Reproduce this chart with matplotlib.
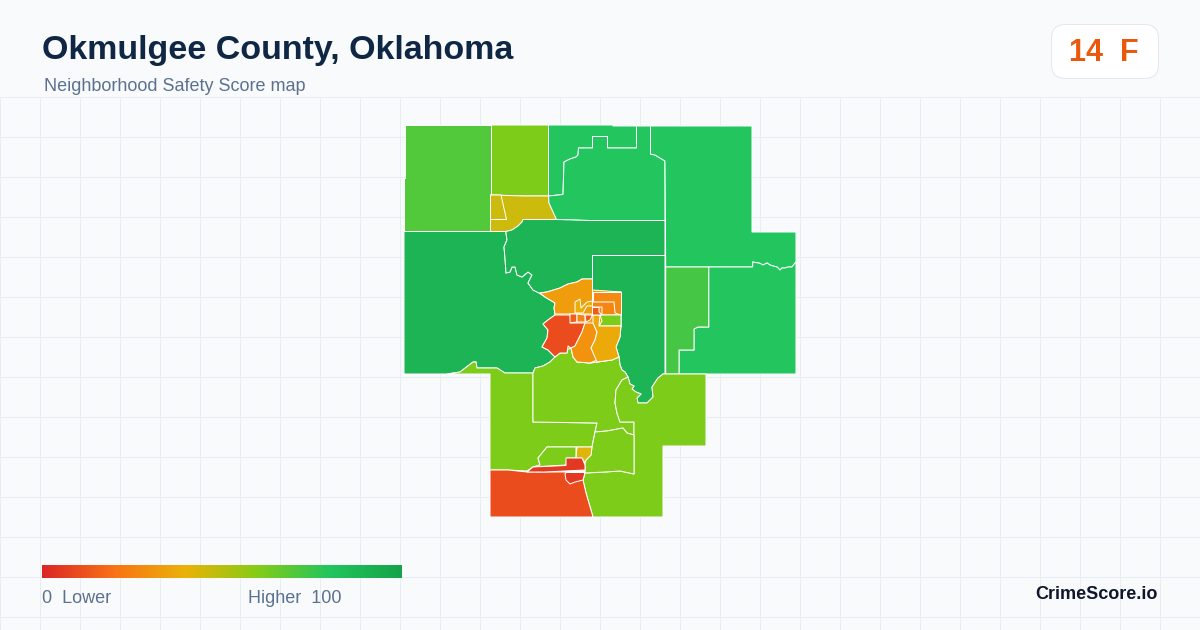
import numpy as np
import matplotlib
matplotlib.use("Agg")
import matplotlib.pyplot as plt
from matplotlib.colors import LinearSegmentedColormap, Normalize
from matplotlib.patches import FancyBboxPatch, Polygon

plt.rcParams['font.family'] = ['Liberation Sans', 'DejaVu Sans']

TITLE = "Okmulgee County, Oklahoma"
SUBTITLE = "Neighborhood Safety Score map"
OVERALL_SCORE = 14
OVERALL_GRADE = "F"
BRAND = "CrimeScore.io"

STOP_POSITIONS = [0, 0.2, 0.4, 0.6, 0.8, 1]
STOP_COLORS = ["#dc2626", "#f97316", "#eab308", "#84cc16", "#22c55e", "#16a34a"]

# Tract outlines (map coordinates) and their scores
nw_tract = [(405,125),(491.5,125),(491.5,195),(490.5,195),(490.5,231.5),(404,231.5),(404,178),(405,178)]
n_lime_tract = [(491.5,125),(548.5,125),(548.5,196),(524,196),(491.5,195)]
n_yellow_tract = [(490.5,195),(524,196),(548.5,196),(549,203),(556.5,219.5),(523,219.5),(522,222),(518,226),(512,230),(506,231.5),(490.5,231.5)]
n_yellow_small = [(490.5,195),(501,195),(506.5,219.5),(490.5,219.5)]
north_outer = [(548.5,125),(613,125),(613,126),(636.5,126),(636.5,148),(607.5,148),(607.5,136.5),(592.5,136.5),(592.5,148),(578.5,148),(578,155),(576,157),(570,159),(564,162),(563,194.5),(548.5,196)]
north_inner = [(548.5,196),(563,194.5),(564,162),(570,159),(576,157),(578,155),(578.5,148),(592.5,148),(592.5,136.5),(607.5,136.5),(607.5,148),(636.5,148),(636.5,126),(650.5,126),(650.5,154),(655,155),(660,158),(665,161),(665,220.5),(589,220.5),(556.5,219.5),(549,203)]
wiggle = [(796,262),(795,263),(792,267),(788,267),(785,268),(782,268),(780,270),(777,267),(773,266),(770,265),(767,263),(763,265),(760,263.3),(752.7,262)]
east_upper = [(650.5,126),(752,126),(752,232),(796,232)] + wiggle + [(752.7,267),(665.7,267),(665,161),(660,158),(655,155),(650.5,154)]
east_lower = [(708.7,267),(752.7,267)] + wiggle[::-1] + [(796,374),(679,374),(679,350),(694,350),(694,329),(698,327),(708.7,327)]
east_light = [(665.7,267),(708.7,267),(708.7,327),(698,327),(694,329),(694,350),(679,350),(679,374),(665.7,374)]
river_north = [(506,231.5),(506,233),(507,240),(504,247),(505,258),(506,273),(510,272),(512,267),(515,267),(517,275),(522,277),(528,272),(532,275),(528,283),(533,290),(539,293)]
west_dark = river_north + [(545,297),(550,300),(555,303),(554,308),(555,314),(555,315),(548,320),(543,324),(548,330),(547,338),(542,347),(548,350),(555,357),(550,362),(543,366),(535,368),(533,373),(505,373),(497,368),(477,368),(476,362),(473,362),(460,372),(447,374),(404,374),(404,231.5)]
north_dark = [(506,231.5),(512,230),(518,226),(522,222),(523,219.5),(556.5,219.5),(589,220.5),(665,220.5),(665,255.5),(592.5,255.5),(592.5,279),(582,279),(577,282),(568,284),(560,288),(547,292),(539,293)] + river_north[::-1][1:]
east_dark = [(592.5,255.5),(665,255.5),(665,374),(663,374),(658,378),(652,387),(653,397),(647,403),(638,403),(637,398),(641,394),(636,392),(632,389),(634,386),(630,384),(628,377),(625,372),(622,370),(620,365),(619,357),(616,347),(620,337),(621,326),(621,292),(592.5,292)]
center_base = [(555,303),(592.5,290),(621,292),(621,326),(616,347),(612,360),(590,363),(577,362),(571,348),(560,353),(548,330),(555,315)]
center_north = [(540,293),(547,292),(560,288),(568,284),(577,282),(582,279),(592.5,279),(592.5,314),(555,314),(554,308),(555,303),(550,300),(545,297)]
center_ne = [(592.5,292),(621,292),(621,315),(592.5,315)]
center_ne_inner = [(592.5,302),(614,302),(615,313),(621,315),(602,315),(602,307),(592.5,307)]
center_lime = [(600,315),(621,315),(621,326),(599,326),(602,321)]
center_west = [(555,315),(570,315),(571,323),(585,323),(582,332),(578,340),(575,346),(571,348),(568,346),(567,353),(560,353),(555,357),(548,350),(542,347),(547,338),(548,330),(543,324),(548,320)]
center_mid = [(585,323),(593,323),(597,332),(595,340),(591,348),(597,360),(590,363),(577,362),(573,357),(571,348),(575,346),(578,340),(582,332)]
center_se = [(593,315),(600,315),(599,326),(621,326),(620,337),(616,347),(619,357),(612,360),(597,362),(591,348),(595,340),(597,332),(593,323)]
small_a = [(570,314),(577,314),(577,322),(570,323)]
small_b = [(577,314),(585,315),(585,322),(577,322)]
small_c = [(585,315),(592.5,315),(590,320),(586,322)]
small_d = [(592.5,307.5),(599,307.5),(599,312),(602,315),(592.5,315)]
small_e = [(575,313),(575,302),(580,299),(581,308),(587,302),(592.5,301),(592.5,306),(587,306),(583,313)]
south_west = [(447,374),(460,372),(473,362),(476,362),(477,368),(497,368),(505,373),(533,373),(533,422),(597,423),(595,432),(592,447),(547,447),(538,458),(540,465),(533,467),(527,471),(508,470),(490,470),(490,374)]
south_north = [(533,373),(535,368),(543,366),(550,362),(555,357),(560,353),(567,353),(568,346),(571,348),(573,357),(577,362),(590,363),(597,362),(612,360),(619,357),(620,365),(622,370),(625,372),(628,377),(622,380),(616,390),(615,403),(617,413),(620,422),(634,422),(634,435),(627,433),(623,428),(607,431),(595,432),(597,423),(533,422)]
south_east = [(628,377),(630,384),(634,386),(632,389),(636,392),(641,394),(637,398),(638,403),(647,403),(653,397),(652,387),(658,378),(663,374),(706,374),(706,446),(663,446),(663,517),(593,517),(586,493),(583,480),(585,473),(605,472),(620,471),(634,474),(634,422),(620,422),(617,413),(615,403),(616,390),(622,380)]
south_box = [(595,432),(607,431),(623,428),(627,433),(634,435),(634,474),(620,471),(605,472),(585,473),(585,463),(586,460),(591,455),(592,447)]
south_inner = [(547,447),(576,447),(576,458),(567,458),(566,465),(533,467),(540,465),(538,458)]
south_yellow = [(577,447),(592,447),(591,455),(586,460),(585,463),(582,458),(576,458)]
south_big = [(490,470),(508,470),(527,472),(566,472),(585,472),(583,480),(586,493),(593,517),(490,517)]
south_red_a = [(527,472),(533,467),(566,465.5),(566,458),(582,458),(585,465),(585,470),(545,472)]
south_red_b = [(566,472.5),(585,472.5),(583,480),(575,482),(570,484),(566,480),(565,474)]

TRACTS = [nw_tract, n_lime_tract, n_yellow_tract, n_yellow_small, north_outer, north_inner,
          east_upper, east_lower, east_light, west_dark, north_dark, east_dark,
          south_west, south_north, south_east, south_box, south_inner, south_yellow,
          south_big, south_red_a, south_red_b, center_base,
          center_north, center_ne, center_ne_inner, center_lime, center_west, center_mid,
          center_se, small_a, small_b, small_c, small_d, small_e]
SCORES = [70, 61, 46, 46, 80, 80,
          80, 80, 73, 90, 90, 90,
          61, 61, 61, 61, 61, 42,
          10, 5, 5, 33,
          33, 27, 26, 61, 10, 30,
          37, 15, 25, 13, 14, 38]

cmap = LinearSegmentedColormap.from_list("score", list(zip(STOP_POSITIONS, STOP_COLORS)))
norm = Normalize(0, 100)

BG = "#f8fafc"
GRID = "#e6eef3"
fig = plt.figure(figsize=(12, 6.3), dpi=100, facecolor=BG)
ax = fig.add_axes([0, 0, 1, 1])
ax.set_facecolor(BG)

for gx in range(0, 1201, 40):
    ax.plot([gx, gx], [97, 630], color=GRID, lw=0.72, zorder=1)
for gy in range(97, 630, 40):
    ax.plot([0, 1200], [gy, gy], color=GRID, lw=0.72, zorder=1)

for i, (pts, s) in enumerate(zip(TRACTS, SCORES)):
    ax.add_patch(Polygon(pts, closed=True, facecolor=cmap(norm(s)), edgecolor="white",
                         lw=0.72, joinstyle="round", zorder=2 + i * 0.01))

# Title block
ax.text(42, 59, TITLE, fontsize=24.48, fontweight="bold", color="#0f2744", va="baseline", ha="left", zorder=5)
ax.text(44, 91, SUBTITLE, fontsize=12.96, color="#5b7190", va="baseline", ha="left", zorder=5)

# Score badge
ax.add_patch(FancyBboxPatch((1051.5, 24.5), 107, 54, boxstyle="round,pad=0,rounding_size=14", mutation_scale=1,
                            facecolor="white", edgecolor="#e2e8f0", lw=0.72, zorder=4))
ax.text(1104, 61, f"{OVERALL_SCORE}  {OVERALL_GRADE}", fontsize=22, fontweight="bold", color="#ea580c",
        ha="center", va="baseline", zorder=5)

# Legend
ax.imshow(np.linspace(0, 100, 360)[None, :], cmap=cmap, norm=norm, extent=(42, 402, 578, 565),
          aspect="auto", interpolation="bilinear", zorder=4)
ax.text(42, 603, "0  Lower", fontsize=12.96, color="#5b7190", ha="left", va="baseline", zorder=5)
ax.text(342, 603, "Higher  100", fontsize=12.96, color="#5b7190", ha="right", va="baseline", zorder=5)
ax.text(1158, 599, BRAND, fontsize=13, fontweight="bold", color="#0f172a", ha="right", va="baseline", zorder=5)

ax.set_xlim(0, 1200)
ax.set_ylim(630, 0)
ax.axis("off")
fig.savefig("out.png", dpi=100, facecolor=BG)
